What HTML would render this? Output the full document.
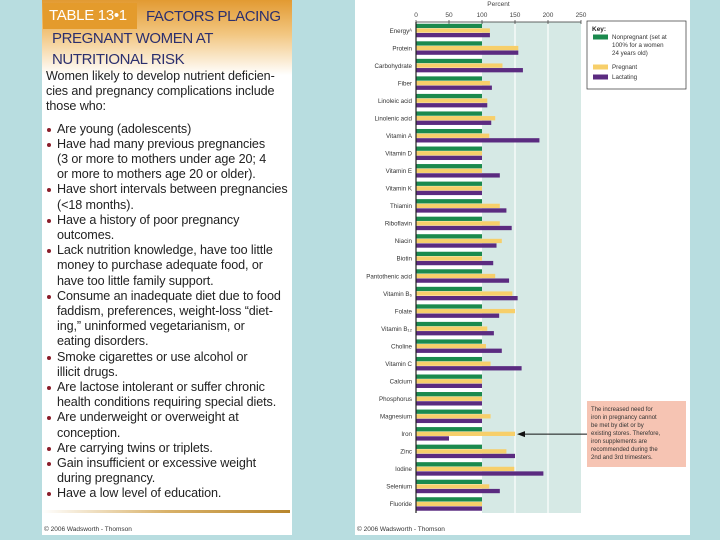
<!DOCTYPE html>
<html><head><meta charset="utf-8">
<style>
body{margin:0;width:720px;height:540px;background:#b8dde0;position:relative;overflow:hidden;font-family:"Liberation Sans",sans-serif}
#left{position:absolute;left:42px;top:0;width:250px;height:535px;background:#fff;overflow:hidden}
#hdr{position:absolute;left:0;top:0;width:250px;height:75px;background:linear-gradient(#e29a32,#f2c680 45%,#fff)}
#tag{position:absolute;left:1px;top:3px;width:94px;height:26px;background:#e49b2c;color:#fff;font-size:15px;line-height:26px;padding-left:6px;box-sizing:border-box;white-space:nowrap;letter-spacing:-0.3px}
.tt{position:absolute;color:#2b2f6e;font-size:15px;white-space:nowrap;letter-spacing:-0.4px}
.ln{position:absolute;font-size:12.6px;color:#222;white-space:nowrap;letter-spacing:-0.1px}
.bl{position:absolute;width:4px;height:4px;border-radius:50%;background:#8b1d2a}
#gold{position:absolute;left:0;top:510px;width:248px;height:3px;background:linear-gradient(90deg,#fff,#d9b26a 50%,#b8862c)}
.cp{position:absolute;font-size:6.5px;color:#333}
#right{position:absolute;left:355px;top:0;width:335px;height:535px;background:#fff}
</style></head><body>
<div id="left">
<div id="hdr"></div>
<div id="tag">TABLE 13•1</div>
<div class="tt" style="left:104px;top:8px">FACTORS PLACING</div>
<div class="tt" style="left:10px;top:30px">PREGNANT WOMEN AT</div>
<div class="tt" style="left:10px;top:51px">NUTRITIONAL RISK</div>
<div id="lines"></div>
<div id="gold"></div>
<div class="cp" style="left:2px;top:526px">© 2006 Wadsworth - Thomson</div>
</div>
<div id="right">
<svg id="chart" width="335" height="535"></svg>
<div class="cp" style="left:2px;top:526px">© 2006 Wadsworth - Thomson</div>
</div>
<script>
const textLines=[
[0,"Women likely to develop nutrient deficien-"],[0,"cies and pregnancy complications include"],[0,"those who:"],
[2,"Are young (adolescents)"],[2,"Have had many previous pregnancies"],[1,"(3 or more to mothers under age 20; 4"],[1,"or more to mothers age 20 or older)."],
[2,"Have short intervals between pregnancies"],[1,"(<18 months)."],[2,"Have a history of poor pregnancy"],[1,"outcomes."],
[2,"Lack nutrition knowledge, have too little"],[1,"money to purchase adequate food, or"],[1,"have too little family support."],
[2,"Consume an inadequate diet due to food"],[1,"faddism, preferences, weight-loss \u201cdiet-"],[1,"ing,\u201d uninformed vegetarianism, or"],[1,"eating disorders."],
[2,"Smoke cigarettes or use alcohol or"],[1,"illicit drugs."],[2,"Are lactose intolerant or suffer chronic"],[1,"health conditions requiring special diets."],
[2,"Are underweight or overweight at"],[1,"conception."],[2,"Are carrying twins or triplets."],[2,"Gain insufficient or excessive weight"],[1,"during pregnancy."],[2,"Have a low level of education."]];
const L=document.getElementById('lines');
let y=69;
textLines.forEach((t,i)=>{
  if(t[0]===2 && textLines[i-1] && textLines[i-1][0]===0) y+=7;
  const d=document.createElement('div');d.className='ln';
  
  
  d.style.left=(t[0]===0?4:15)+'px';d.style.top=y+'px';d.textContent=t[1];L.appendChild(d);
  if(t[0]===2){const b=document.createElement('div');b.className='bl';
    
    
    b.style.left='5px';b.style.top=(y+6)+'px';L.appendChild(b);}
  y+=15.2;
});
</script>
<script>
const categories=["Energy\u1d2c","Protein","Carbohydrate","Fiber","Linoleic acid","Linolenic acid","Vitamin A","Vitamin D","Vitamin E","Vitamin K","Thiamin","Riboflavin","Niacin","Biotin","Pantothenic acid","Vitamin B\u2086","Folate","Vitamin B\u2081\u2082","Choline","Vitamin C","Calcium","Phosphorus","Magnesium","Iron","Zinc","Iodine","Selenium","Fluoride"];
const nonpregnant=[100,100,100,100,100,100,100,100,100,100,100,100,100,100,100,100,100,100,100,100,100,100,100,100,100,100,100,100];
const pregnant=[112,155,131,112,108,120,111,100,100,100,127,127,130,100,120,146,150,108,106,113,100,100,113,150,137,149,111,100];
const lactating=[112,155,162,115,108,114,187,100,127,100,137,145,122,117,141,154,126,118,130,160,100,100,100,50,150,193,127,100];
const ticks=[0,50,100,150,200,250];
const seriesColors=["#1b8a4e","#f7cf6a","#5b2b80"];
const NS="http://www.w3.org/2000/svg";
const svg=document.getElementById('chart');
const X0=61,XS=0.66,TOP=22,BOT=513;
const x=v=>X0+v*XS;
const band=(BOT-TOP)/categories.length;
const yc=i=>TOP+band*(i+0.5);
function el(tag,attrs,parent){const e=document.createElementNS(NS,tag);for(const k in attrs)e.setAttribute(k,attrs[k]);(parent||svg).appendChild(e);return e;}
const bg=el('rect',{x:x(100),y:TOP,width:x(250)-x(100),height:BOT-TOP,fill:'#d6e9e5'});


[150,200].forEach(v=>{const g=el('line',{x1:x(v),x2:x(v),y1:TOP,y2:BOT,stroke:'#fff','stroke-width':1.2});

});
const pl=el('text',{x:x(125),y:6,'font-size':6.5,'text-anchor':'middle',fill:'#444'});pl.textContent='Percent';


ticks.forEach(v=>{const t=el('text',{x:x(v),y:17,'font-size':6.5,'text-anchor':'middle',fill:'#444'});t.textContent=v;


const tk=el('line',{x1:x(v),x2:x(v),y1:20,y2:TOP+2,stroke:'#333','stroke-width':0.7});

});
el('line',{x1:X0,x2:x(250),y1:TOP,y2:TOP,stroke:'#333','stroke-width':0.7});
const series=[nonpregnant,pregnant,lactating];
const bh=4.6;
categories.forEach((c,i)=>{
  const lb=el('text',{x:X0-4,y:yc(i)+2,'font-size':6.2,'text-anchor':'end',fill:'#333'});lb.textContent=c;
  
  
  series.forEach((s,k)=>{
    const r=el('rect',{x:X0,y:yc(i)-7+k*bh,width:x(s[i])-X0,height:bh-0.3,fill:seriesColors[k]});
    
    
  });
});
const ax=el('line',{x1:X0,x2:X0,y1:TOP,y2:BOT,stroke:'#222','stroke-width':1.2});


const kb=el('rect',{x:232,y:21,width:99,height:68,fill:'#fff',stroke:'#333','stroke-width':0.7});


const kt=el('text',{x:237,y:31,'font-size':6.5,'font-weight':'bold',fill:'#222'});kt.textContent='Key:';


const legendRows=[[39,["Nonpregnant (set at","100% for a women","24 years old)"]],[69,["Pregnant"]],[79,["Lactating"]]];
legendRows.forEach((r,k)=>{
  const sw=el('rect',{x:238,y:r[0]-4.5,width:15,height:5,fill:seriesColors[k]});
  
  
  r[1].forEach((t,j)=>{const tx=el('text',{x:257,y:r[0]+j*8,'font-size':6.2,fill:'#333'});tx.textContent=t;
  
  });
});
const ab=el('rect',{x:232,y:401,width:99,height:66,fill:'#f6c4b3'});


["The increased need for","iron in pregnancy cannot","be met by diet or by","existing stores. Therefore,","iron supplements are","recommended during the","2nd and 3rd trimesters."].forEach((t,j)=>{
  const tx=el('text',{x:236,y:411+j*8,'font-size':6,fill:'#333'});tx.textContent=t;
  
  });
const ar=el('line',{x1:232,x2:x(pregnant[23])+8,y1:yc(23),y2:yc(23),stroke:'#111','stroke-width':1});


const ah=el('polygon',{points:`${x(pregnant[23])+2},${yc(23)} ${x(pregnant[23])+10},${yc(23)-3} ${x(pregnant[23])+10},${yc(23)+3}`,fill:'#111'});


</script>
</body></html>
